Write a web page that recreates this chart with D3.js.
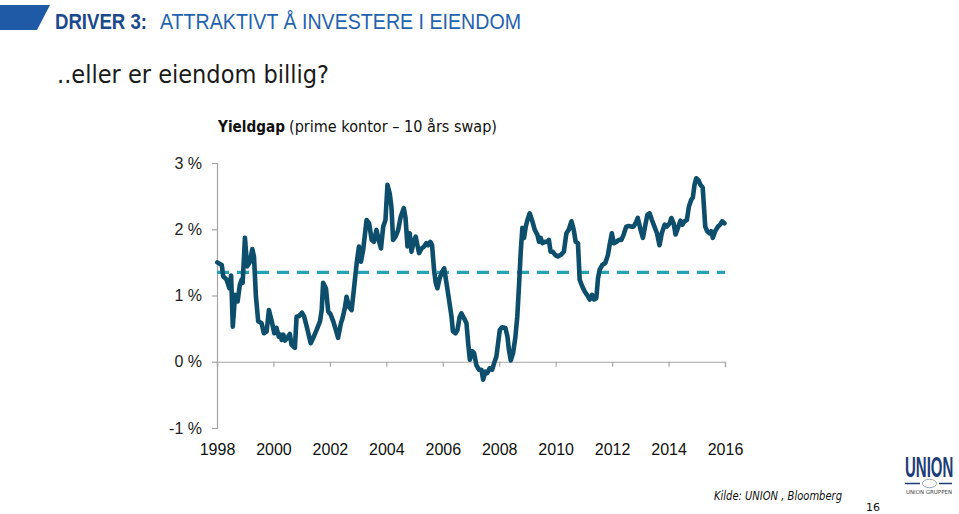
<!DOCTYPE html>
<html>
<head>
<meta charset="utf-8">
<script src="https://cdn.jsdelivr.net/npm/d3@7"></script>
<style>
  html, body { margin: 0; padding: 0; background: #ffffff; }
  svg { display: block; }
</style>
</head>
<body>
<svg id="chart" width="959" height="514"></svg>
<script>
// ---- data ----
const years = [
  1998.01,1998.17,1998.22,1998.34,1998.44,1998.50,1998.56,1998.64,1998.73,1998.81,1998.87,1998.91,1998.99,
  1999.07,1999.17,1999.25,1999.31,1999.38,1999.46,1999.58,1999.66,1999.76,1999.84,1999.94,
  2000.03,2000.11,2000.19,2000.25,2000.29,2000.35,2000.41,2000.49,2000.58,2000.64,2000.76,2000.82,2000.91,
  2001.01,2001.09,2001.18,2001.32,2001.43,2001.53,2001.65,2001.71,2001.76,2001.86,2001.94,
  2002.02,2002.12,2002.21,2002.29,2002.39,2002.45,2002.53,2002.59,2002.68,2002.77,2002.85,2002.95,
  2003.03,2003.10,2003.18,2003.30,2003.39,2003.48,2003.56,2003.65,2003.73,2003.81,2003.89,2003.97,
  2004.04,2004.12,2004.18,2004.24,2004.33,2004.42,2004.51,2004.62,2004.68,2004.75,2004.83,2004.89,2004.97,
  2005.04,2005.10,2005.16,2005.25,2005.34,2005.42,2005.48,2005.56,2005.62,2005.69,2005.75,2005.81,2005.89,2005.98,
  2006.05,2006.13,2006.22,2006.31,2006.36,2006.45,2006.52,2006.60,2006.66,2006.75,2006.84,2006.90,2006.96,
  2007.04,2007.11,2007.19,2007.28,2007.37,2007.43,2007.51,2007.58,2007.66,2007.75,2007.82,2007.90,2007.96,
  2008.02,2008.10,2008.22,2008.29,2008.35,2008.41,2008.49,2008.57,2008.64,2008.70,2008.76,2008.82,2008.88,2008.94,
  2009.00,2009.08,2009.16,2009.26,2009.35,2009.41,2009.47,2009.53,2009.61,2009.69,2009.76,2009.82,2009.90,2009.99,
  2010.08,2010.20,2010.29,2010.38,2010.46,2010.56,2010.64,2010.71,2010.79,2010.85,2010.94,
  2011.03,2011.11,2011.21,2011.29,2011.36,2011.44,2011.50,2011.56,2011.65,2011.76,2011.85,2011.91,2011.99,
  2012.06,2012.15,2012.24,2012.33,2012.41,2012.50,2012.58,2012.68,2012.76,2012.83,2012.91,
  2013.01,2013.09,2013.18,2013.25,2013.33,2013.41,2013.50,2013.59,2013.68,2013.76,2013.86,2013.94,
  2014.04,2014.10,2014.18,2014.25,2014.33,2014.42,2014.49,2014.57,2014.65,2014.72,2014.80,2014.86,2014.92,2014.98,
  2015.06,2015.13,2015.21,2015.25,2015.30,2015.37,2015.45,2015.51,2015.57,2015.65,2015.75,2015.83,2015.90,2015.98
];
const yieldGap = [
  1.50,1.46,1.29,1.24,1.11,1.30,0.53,1.01,0.91,1.16,1.24,1.19,1.87,
  1.44,1.51,1.70,1.59,0.98,0.61,0.58,0.43,0.46,0.78,0.61,
  0.43,0.51,0.38,0.41,0.33,0.41,0.32,0.36,0.42,0.26,0.21,0.68,0.69,
  0.74,0.68,0.53,0.28,0.38,0.48,0.61,0.78,1.19,1.11,0.76,
  0.72,0.61,0.48,0.36,0.58,0.66,0.81,0.98,0.83,0.78,1.09,1.49,
  1.74,1.51,1.69,2.14,2.09,1.84,1.81,1.99,1.84,1.71,2.04,2.14,
  2.67,2.54,2.34,1.84,1.89,1.99,2.19,2.32,2.17,1.74,1.94,1.66,1.81,
  1.89,1.76,1.64,1.71,1.74,1.79,1.76,1.81,1.76,1.39,1.19,1.11,1.26,1.36,
  1.41,1.19,0.94,0.68,0.46,0.43,0.48,0.68,0.73,0.66,0.58,0.28,0.03,
  0.16,0.13,-0.05,-0.12,-0.12,-0.27,-0.15,-0.17,-0.10,-0.12,-0.02,0.08,0.28,
  0.48,0.52,0.51,0.38,0.16,0.02,0.13,0.36,0.68,1.14,1.64,2.02,1.87,2.04,
  2.14,2.24,2.14,1.99,1.92,1.81,1.87,1.79,1.81,1.81,1.84,1.66,1.66,1.61,
  1.59,1.62,1.66,1.94,1.99,2.12,1.99,1.81,1.79,1.24,1.14,
  1.06,1.01,0.94,1.01,0.94,0.96,1.26,1.39,1.46,1.49,1.61,1.76,1.94,
  1.79,1.81,1.84,1.84,1.92,2.04,2.05,2.04,2.04,2.09,2.17,
  1.99,1.87,2.07,2.22,2.24,2.14,2.04,1.94,1.76,1.94,2.07,2.04,
  2.09,2.17,2.09,1.92,2.02,2.13,2.07,2.12,2.14,2.34,2.44,2.48,2.67,2.77,
  2.74,2.67,2.63,2.37,2.04,1.97,1.94,1.97,1.87,1.97,2.04,2.07,2.12,2.09
];
const averageGap = 1.35;
const yTickValues = [-1, 0, 1, 2, 3];
const xTickYears = [1998, 2000, 2002, 2004, 2006, 2008, 2010, 2012, 2014, 2016];

const series = years.map((y, i) => ({ year: y, value: yieldGap[i] }));

// ---- layout ----
const svg = d3.select("#chart");
const x = d3.scaleLinear().domain([1998, 2016]).range([217, 725]);
const y = d3.scaleLinear().domain([-1, 3]).range([428, 163]);

const narrow = "'Liberation Sans Narrow', 'Liberation Sans', Arial, sans-serif";
const humanist = "'DejaVu Sans', Verdana, sans-serif";

// header band shape
svg.append("polygon")
  .attr("points", "0,5 50,5 37,30 0,30")
  .attr("fill", "#1f5aa6");

// header title
svg.append("text")
  .attr("x", 55).attr("y", 29)
  .attr("font-family", narrow).attr("font-weight", "bold")
  .attr("font-size", 22).attr("fill", "#1b4a8c")
  .attr("textLength", 92).attr("lengthAdjust", "spacingAndGlyphs")
  .text("DRIVER 3:");
svg.append("text")
  .attr("x", 160).attr("y", 29)
  .attr("font-family", narrow)
  .attr("font-size", 22).attr("fill", "#2462b0")
  .attr("textLength", 361).attr("lengthAdjust", "spacingAndGlyphs")
  .text("ATTRAKTIVT  Å INVESTERE I EIENDOM");

// subtitle
svg.append("text")
  .attr("x", 57).attr("y", 83)
  .attr("font-family", humanist)
  .attr("font-size", 24)
  .attr("fill", "#1a1a1a")
  .attr("textLength", 272)
  .attr("lengthAdjust", "spacingAndGlyphs")
  .text("..eller er eiendom billig?");

// chart title (two pieces)
svg.append("text")
  .attr("x", 218).attr("y", 132)
  .attr("font-family", humanist).attr("font-weight", "bold")
  .attr("font-size", 15).attr("fill", "#111")
  .attr("textLength", 67).attr("lengthAdjust", "spacingAndGlyphs")
  .text("Yieldgap");
svg.append("text")
  .attr("x", 289).attr("y", 132)
  .attr("font-family", humanist)
  .attr("font-size", 15).attr("fill", "#111")
  .attr("textLength", 208).attr("lengthAdjust", "spacingAndGlyphs")
  .text("(prime kontor – 10 års swap)");

// ---- axes ----
const axisColor = "#a6a6a6";

const yAxis = svg.append("g")
  .attr("transform", `translate(${x(1998)},0)`)
  .call(d3.axisLeft(y).tickValues(yTickValues).tickSize(5).tickPadding(10)
        .tickFormat(d => d + " %"));
yAxis.select(".domain").attr("stroke", axisColor).attr("stroke-width", 1.2);
yAxis.selectAll(".tick line").attr("stroke", axisColor).attr("stroke-width", 1.2);
yAxis.selectAll(".tick text")
  .attr("font-family", narrow).attr("font-size", 16).attr("fill", "#222");

const xAxis = svg.append("g")
  .attr("transform", `translate(0,${y(0)})`)
  .call(d3.axisBottom(x).tickValues(xTickYears).tickSize(5).tickFormat(d3.format("d")));
xAxis.select(".domain").attr("stroke", axisColor).attr("stroke-width", 1.2);
xAxis.selectAll(".tick line").attr("stroke", axisColor).attr("stroke-width", 1.2);
xAxis.selectAll(".tick text")
  .attr("y", y(-1) - y(0) + 27)
  .attr("dy", 0)
  .attr("font-family", narrow).attr("font-size", 16).attr("fill", "#111");

// ---- average (dashed) ----
svg.append("line")
  .attr("x1", x(1998)).attr("x2", x(2016))
  .attr("y1", y(averageGap)).attr("y2", y(averageGap))
  .attr("stroke", "#26a2b2")
  .attr("stroke-width", 3.2)
  .attr("stroke-dasharray", "12,8");

// ---- yield gap line ----
const line = d3.line().x(d => x(d.year)).y(d => y(d.value));
svg.append("path")
  .datum(series)
  .attr("d", line)
  .attr("fill", "none")
  .attr("stroke", "#0c4e6b")
  .attr("stroke-width", 4.6)
  .attr("stroke-linejoin", "round")
  .attr("stroke-linecap", "round");

// ---- source & page ----
svg.append("text")
  .attr("x", 714).attr("y", 500)
  .attr("font-family", humanist)
  .attr("font-style", "italic")
  .attr("font-size", 12)
  .attr("fill", "#111")
  .attr("textLength", 128)
  .attr("lengthAdjust", "spacingAndGlyphs")
  .text("Kilde: UNION , Bloomberg");

svg.append("text")
  .attr("x", 866).attr("y", 511)
  .attr("font-family", humanist)
  .attr("font-size", 11)
  .attr("fill", "#111")
  .text("16");

// ---- logo ----
const logo = svg.append("g");
logo.append("text")
  .attr("transform", "translate(905,477) scale(1,1.95)")
  .attr("font-family", narrow)
  .attr("font-weight", "bold")
  .attr("font-size", 15)
  .attr("fill", "#1c3d78")
  .text("UNION");
logo.append("line").attr("x1", 905).attr("x2", 920).attr("y1", 483.5).attr("y2", 483.5)
  .attr("stroke", "#1c3d78").attr("stroke-width", 1.5);
logo.append("line").attr("x1", 939).attr("x2", 952).attr("y1", 483.5).attr("y2", 483.5)
  .attr("stroke", "#1c3d78").attr("stroke-width", 1.5);
logo.append("ellipse").attr("cx", 929.5).attr("cy", 483.5).attr("rx", 7).attr("ry", 4.2)
  .attr("fill", "none").attr("stroke", "#9aa6bb").attr("stroke-width", 1);
logo.append("text")
  .attr("x", 906).attr("y", 494)
  .attr("font-family", humanist)
  .attr("font-size", 5.5)
  .attr("fill", "#444")
  .attr("textLength", 46)
  .attr("lengthAdjust", "spacingAndGlyphs")
  .text("UNION GRUPPEN");
</script>
</body>
</html>
